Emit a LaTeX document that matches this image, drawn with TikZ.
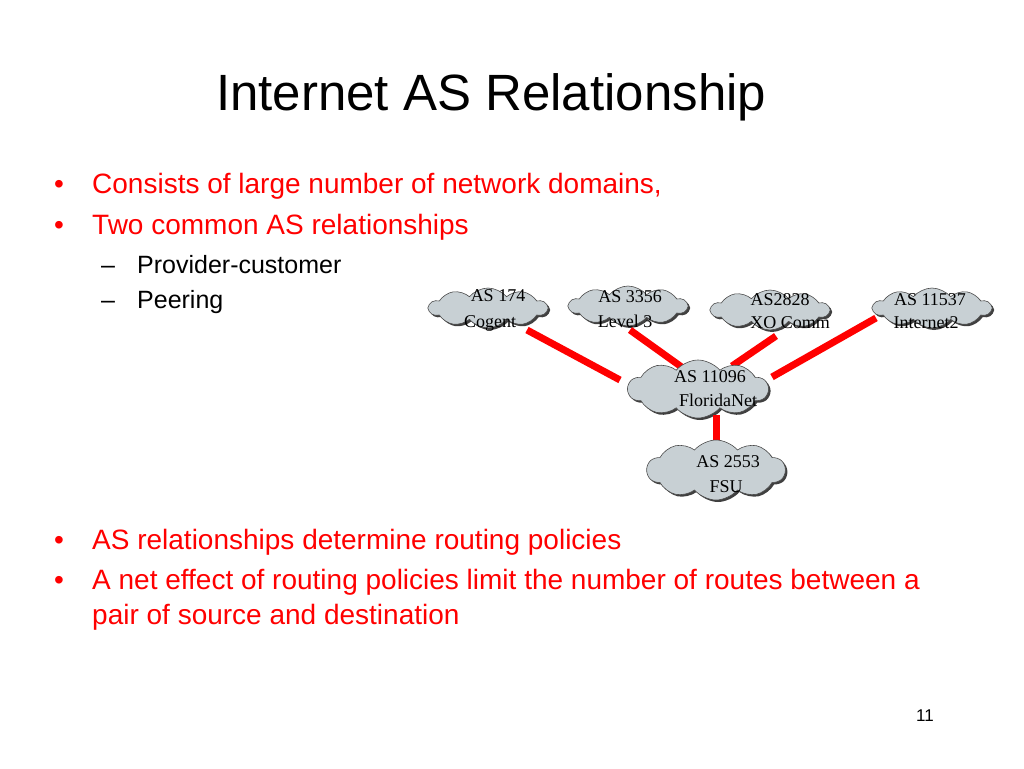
\documentclass[tikz,border=0pt]{standalone}
\usepackage{fontspec}
\setmainfont{Liberation Sans}
\newfontfamily\tms{Liberation Serif}
\usetikzlibrary{shapes.symbols}
\definecolor{cgray}{RGB}{200,208,212}
\begin{document}
\begin{tikzpicture}[x=1pt,y=-1pt,
  cl/.style={cloud, cloud puffs=10, cloud puff arc=100, aspect=2.6, fill=cgray, draw=black!70, line width=0.6pt,
    inner sep=0pt, preaction={fill=black!75, transform canvas={xshift=2pt,yshift=-2pt}}},
  ct/.style={font=\tms\fontsize{18}{20}\selectfont, inner sep=0pt},
  lk/.style={red, line width=7pt},
  txt/.style={anchor=west, inner sep=0pt, red, font=\fontsize{28}{32}\selectfont},
  sub/.style={anchor=west, inner sep=0pt, font=\fontsize{25}{30}\selectfont}]
\useasboundingbox (0,0) rectangle (1024,768);
\node[anchor=west, inner sep=0pt, font=\fontsize{51}{56}\selectfont] (title) at (216,97) {Internet AS Relationship};
\node[txt] (b1) at (54,186) {\makebox[38pt][l]{\textbullet}Consists of large number of network domains,};
\node[txt] (b2) at (54,227) {\makebox[38pt][l]{\textbullet}Two common AS relationships};
\node[sub] (s1) at (101,265) {\makebox[36pt][l]{–}Provider-customer};
\node[sub] (s2) at (101,302) {\makebox[36pt][l]{–}Peering};
\node[txt] (b3) at (54,542) {\makebox[38pt][l]{\textbullet}AS relationships determine routing policies};
\node[txt] (b4) at (54,582) {\makebox[38pt][l]{\textbullet}A net effect of routing policies limit the number of routes between a};
\node[txt] (b5) at (92,617) {pair of source and destination};
\node[anchor=center, inner sep=0pt, font=\fontsize{17}{20}\selectfont] (pg) at (925,716) {11};

\node[cl, minimum width=118pt, minimum height=40pt] (a) at (488,308) {};
\node[cl, minimum width=118pt, minimum height=40pt] (b) at (628,306) {};
\node[cl, minimum width=118pt, minimum height=40pt] (c) at (770,310) {};
\node[cl, minimum width=118pt, minimum height=40pt] (d) at (932,308) {};
\node[ct] (ta1) at (498,296) {AS 174};
\node[ct] (ta2) at (490,323) {Cogent};
\node[ct] (tb1) at (630,297) {AS 3356};
\node[ct] (tb2) at (625,321) {Level 3};
\node[ct] (tc1) at (780,300) {AS2828};
\node[ct] (tc2) at (790,323) {XO Comm};
\node[ct] (td1) at (930,300) {AS 11537};
\coordinate (a1) at (527,330); \coordinate (b1c) at (630,330);
\coordinate (c1) at (776,336); \coordinate (d1) at (876,318);
\coordinate (e1) at (620,380); \coordinate (e2) at (683,368);
\coordinate (e3) at (732,366); \coordinate (e4) at (772,377);
\draw[lk] (a1) -- (e1);
\draw[lk] (b1c) -- (e2);
\draw[lk] (c1) -- (e3);
\draw[lk] (d1) -- (e4);
\node[ct] (td2) at (926,323) {Internet2};
\node[cl, minimum width=140pt, minimum height=58pt] (f) at (698,389) {};
\coordinate (f1) at (716,415); \coordinate (g1) at (716,445);
\draw[lk] (f1) -- (g1);
\node[cl, minimum width=138pt, minimum height=60pt] (g) at (716,470) {};
\node[ct] (tf1) at (710,377) {AS 11096};
\node[ct] (tf2) at (718,400) {FloridaNet};
\node[ct] (tg1) at (728,462) {AS 2553};
\node[ct] (tg2) at (726,487) {FSU};
\end{tikzpicture}
\end{document}
